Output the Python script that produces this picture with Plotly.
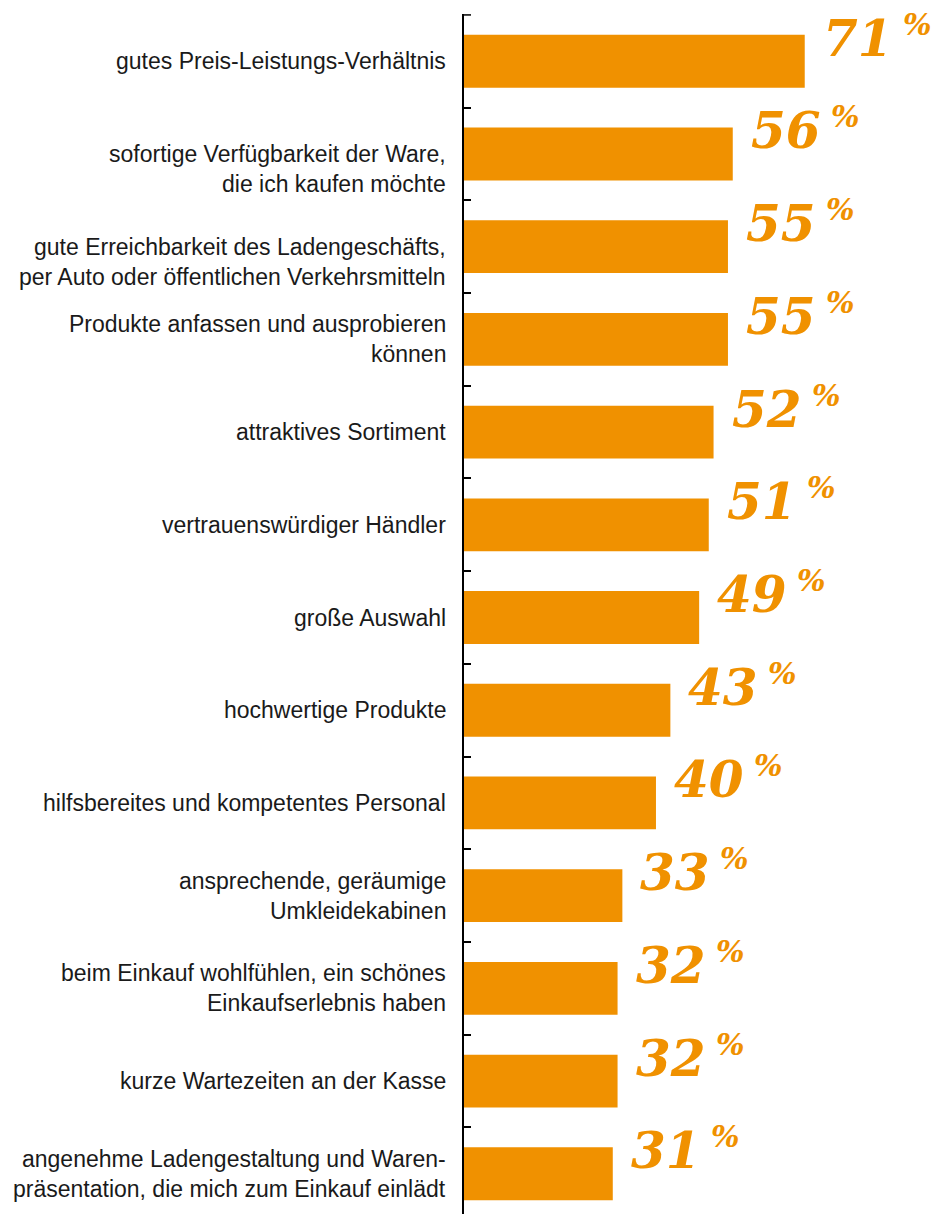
import plotly.graph_objects as go

# ---- data ----
label_lines = [
    ["gutes Preis-Leistungs-Verhältnis"],
    ["sofortige Verfügbarkeit der Ware,", "die ich kaufen möchte"],
    ["gute Erreichbarkeit des Ladengeschäfts,", "per Auto oder öffentlichen Verkehrsmitteln"],
    ["Produkte anfassen und ausprobieren", "können"],
    ["attraktives Sortiment"],
    ["vertrauenswürdiger Händler"],
    ["große Auswahl"],
    ["hochwertige Produkte"],
    ["hilfsbereites und kompetentes Personal"],
    ["ansprechende, geräumige", "Umkleidekabinen"],
    ["beim Einkauf wohlfühlen, ein schönes", "Einkaufserlebnis haben"],
    ["kurze Wartezeiten an der Kasse"],
    ["angenehme Ladengestaltung und Waren-", "präsentation, die mich zum Einkauf einlädt"],
]
values = [71, 56, 55, 55, 52, 51, 49, 43, 40, 33, 32, 32, 31]

# ---- styles / layout helpers ----
categories = [" ".join(l) for l in label_lines]
# first-line vertical offset (px) for each label; two-line labels mostly centred
first_line_shift = [0, 0, 0, 15, 0, 0, 0, 0, 0, 15, 15, 0, 15]
LINE_GAP = 30
ORANGE = "#F09100"
LABEL_FONT = dict(family="Liberation Sans, Arial, sans-serif", size=23, color="#1a1a1a")
VALUE_FONT = dict(family="DejaVu Serif, serif", size=50, color=ORANGE, weight="bold", style="italic")

fig = go.Figure(go.Bar(
    x=values, y=categories, orientation="h",
    marker=dict(color=ORANGE, line=dict(width=0)),
    width=0.57, hoverinfo="skip",
))

annotations = []
for cat, lines, sh in zip(categories, label_lines, first_line_shift):
    for i, ln in enumerate(lines):
        annotations.append(dict(
            x=0, xref="x", y=cat, yref="y", text=ln, showarrow=False,
            xanchor="right", yanchor="middle", xshift=-16,
            yshift=sh - i * LINE_GAP, font=LABEL_FONT,
        ))
for cat, v in zip(categories, values):
    annotations.append(dict(
        x=v, xref="x", y=cat, yref="y",
        text=f"{v}<sup><span style='font-size:30px'> %</span></sup>",
        showarrow=False, xanchor="left", yanchor="middle",
        xshift=16, yshift=24, font=VALUE_FONT,
    ))

# top boundary tick (plotly omits the first boundary tick)
shapes = [dict(
    type="line", xref="paper", yref="y", xsizemode="pixel", xanchor=0,
    x0=0, x1=7, y0=-0.5, y1=-0.5, line=dict(color="black", width=1.5),
)]

fig.update_layout(
    width=942, height=1214,
    margin=dict(l=464, r=0, t=14, b=0),
    paper_bgcolor="white", plot_bgcolor="white",
    showlegend=False, bargap=0.43,
    annotations=annotations, shapes=shapes,
    xaxis=dict(range=[0, 99.6], visible=False, fixedrange=True),
    yaxis=dict(
        type="category", categoryorder="array", categoryarray=categories,
        range=[12.434, -0.51], showline=True, linecolor="black", linewidth=2,
        ticks="inside", tickson="boundaries", ticklen=7, tickwidth=1.5,
        tickcolor="black", showticklabels=False, showgrid=False, zeroline=False,
        fixedrange=True,
    ),
)

fig.write_html("out.html", config={"displayModeBar": False})
